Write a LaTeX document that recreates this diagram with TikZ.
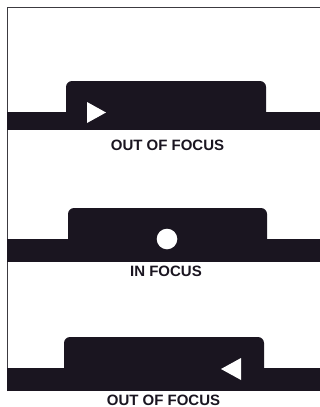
\documentclass[tikz,border=0pt]{standalone}
\usepackage{fontspec}
\setmainfont{Liberation Sans}
\definecolor{ink}{RGB}{26,21,32}
\definecolor{framecol}{RGB}{60,58,64}
\begin{document}
\begin{tikzpicture}[x=1pt,y=-1pt,
  barfill/.style={fill=ink},
  indicator/.style={fill=white},
  lbl/.style={anchor=base,inner sep=0pt,font=\fontsize{15}{18}\selectfont\bfseries,text=ink}]
\useasboundingbox (0,0) rectangle (320,407);
% frame
\draw[framecol,line width=1.8pt] (7.5,391) -- (7.5,7.5) -- (320,7.5);
% panel 1
\fill[barfill] (7,112) rectangle (320,130);
\fill[barfill,rounded corners=6pt] (66,81) rectangle (266,124);
\fill[indicator] (87,102) -- (87,123) -- (106,112.5) -- cycle;
\node[lbl] (l1) at (167.5,150.5) {OUT OF FOCUS};
% panel 2
\fill[barfill] (7,239) rectangle (320,262);
\fill[barfill,rounded corners=6pt] (68,208) rectangle (267,250);
\fill[indicator] (167,239) circle (10.3);
\node[lbl] (l2) at (166,276.5) {IN FOCUS};
% panel 3
\fill[barfill] (7,368) rectangle (320,391);
\fill[barfill,rounded corners=6pt] (64,337) rectangle (264,380);
\fill[indicator] (221,369) -- (241,358) -- (241,380) -- cycle;
\node[lbl] (l3) at (163.5,405) {OUT OF FOCUS};
\end{tikzpicture}
\end{document}
